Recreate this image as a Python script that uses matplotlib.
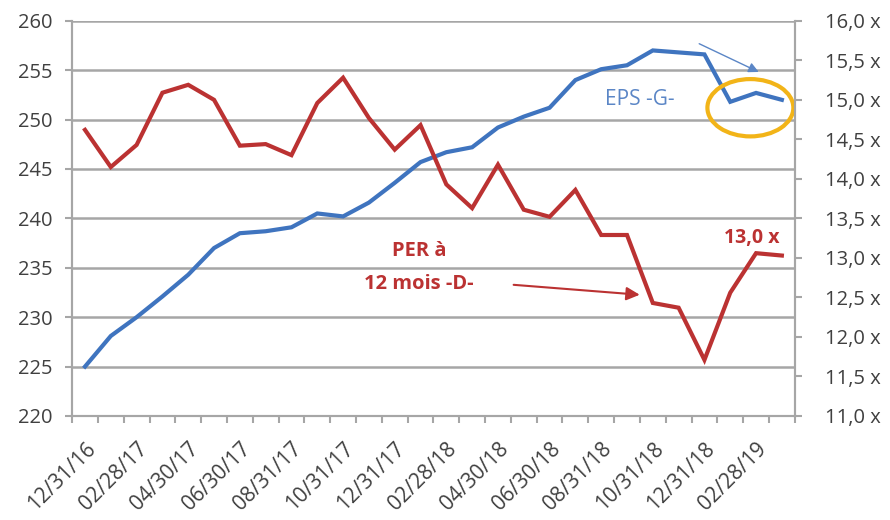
import numpy as np
import matplotlib.pyplot as plt
from matplotlib.patches import Ellipse

# monthly points, 12/31/16 -> 03/31/19
dates = ["12/31/16", "01/31/17", "02/28/17", "03/31/17", "04/30/17", "05/31/17",
         "06/30/17", "07/31/17", "08/31/17", "09/30/17", "10/31/17", "11/30/17",
         "12/31/17", "01/31/18", "02/28/18", "03/31/18", "04/30/18", "05/31/18",
         "06/30/18", "07/31/18", "08/31/18", "09/30/18", "10/31/18", "11/30/18",
         "12/31/18", "01/31/19", "02/28/19", "03/31/19"]
eps = [225.0, 228.1, 230.0, 232.1, 234.3, 237.0, 238.5, 238.7, 239.1, 240.5,
       240.2, 241.6, 243.6, 245.7, 246.7, 247.2, 249.2, 250.3, 251.2, 254.0,
       255.1, 255.5, 257.0, 256.8, 256.6, 251.8, 252.7, 252.0]
per = [14.62, 14.15, 14.43, 15.09, 15.19, 15.0, 14.42, 14.44, 14.30, 14.96,
       15.28, 14.77, 14.37, 14.68, 13.93, 13.63, 14.18, 13.61, 13.52, 13.86,
       13.29, 13.29, 12.43, 12.37, 11.71, 12.56, 13.06, 13.03]

left_ticks = [220, 225, 230, 235, 240, 245, 250, 255, 260]
right_ticks = [11.0, 11.5, 12.0, 12.5, 13.0, 13.5, 14.0, 14.5, 15.0, 15.5, 16.0]

blue = "#3f74bf"
red = "#bb3232"
grid = "#a6a6a6"
txt = "#404040"

plt.rcParams['font.family'] = ['Open Sans', 'DejaVu Sans']

fig = plt.figure(figsize=(8.9, 5.2), dpi=100)
ax = fig.add_axes([0.081, 0.2, 0.812, 0.76])
ax2 = ax.twinx()

x = np.arange(len(dates))
ax.plot(x, eps, color=blue, lw=3, solid_joinstyle='miter', zorder=3)
ax2.plot(x, per, color=red, lw=3, solid_joinstyle='miter', zorder=3)

ax.set_xlim(-0.5, len(dates) - 0.5)
ax.set_ylim(220, 260)
ax2.set_ylim(11, 16)
ax.set_yticks(left_ticks)
ax.set_yticklabels([str(t) for t in left_ticks])
ax2.set_yticks(right_ticks)
ax2.set_yticklabels([("%.1f x" % t).replace(".", ",") for t in right_ticks])
ax.set_xticks(x[::2])
ax.set_xticklabels(dates[::2], rotation=45, ha='right', rotation_mode='anchor')
ax.set_xticks(np.arange(-0.5, len(dates)), minor=True)
ax.tick_params(axis='x', which='major', length=0, pad=16, labelsize=15, labelcolor=txt)
ax.tick_params(axis='x', which='minor', length=5, color=grid, width=1.5)
ax.tick_params(axis='y', length=5, color=grid, width=1.5, labelsize=14.5, labelcolor=txt, pad=9)
ax2.tick_params(axis='y', length=5, color=grid, width=1.5, labelsize=14.5, labelcolor=txt, pad=17)

ax.yaxis.grid(True, color=grid, lw=1.8)
ax.set_axisbelow(True)
for a in (ax, ax2):
    a.spines['top'].set_visible(False)
    for s in ('left', 'right', 'bottom'):
        a.spines[s].set_color(grid)
        a.spines[s].set_linewidth(1.5)

ax.text(21.5, 252.0, "EPS -G-", color="#5b86c6", fontsize=15, ha='center', va='center')
ax.text(12.95, 236.7, "PER à", color=red, fontsize=14.5, fontweight='bold',
        ha='center', va='center')
ax.text(12.95, 233.4, "12 mois -D-", color=red, fontsize=14.5, fontweight='bold',
        ha='center', va='center')
ax2.text(25.85, 13.25, "13,0 x", color=red, fontsize=14, fontweight='bold',
         ha='center', va='center')

ax.annotate("", xy=(21.6, 232.25), xytext=(16.5, 233.3),
            arrowprops=dict(arrowstyle='-|>', color=red, lw=1.5, mutation_scale=20))
ax.annotate("", xy=(26.2, 254.7), xytext=(23.7, 257.8),
            arrowprops=dict(arrowstyle='-|>', color="#5b86c6", lw=1, mutation_scale=15))
ax.add_patch(Ellipse((25.78, 251.2), 3.33, 5.8, fill=False, ec="#f2b418", lw=3, zorder=5))

plt.savefig("out.png", dpi=100)
